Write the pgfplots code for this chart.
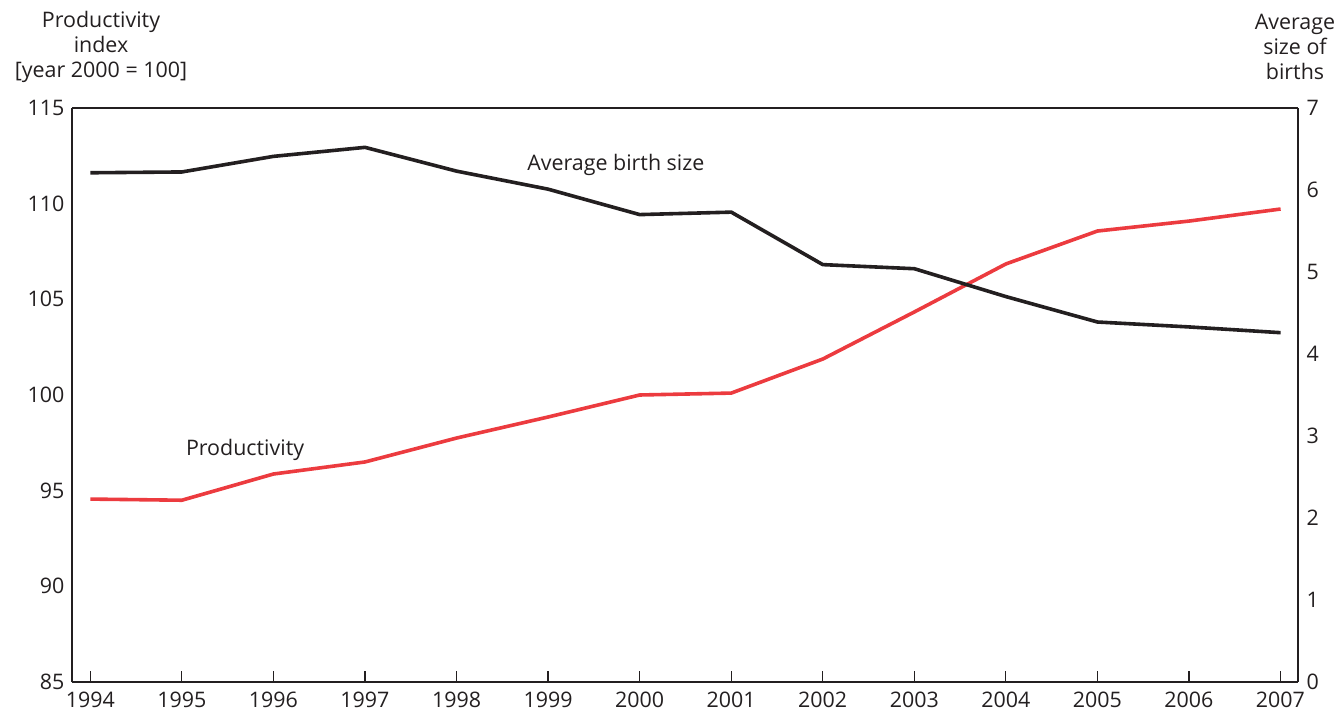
\documentclass[border=0pt]{standalone}
\usepackage{pgfplots}
\pgfplotsset{compat=1.18}
\usepackage{fontspec}
\setmainfont{Open Sans}
\definecolor{prodred}{HTML}{EC3B3F}
\definecolor{ink}{HTML}{231F20}
\pgfplotstableread{
year prod
1994 94.56
1995 94.50
1996 95.87
1997 96.50
1998 97.75
1999 98.85
2000 100.00
2001 100.10
2002 101.88
2003 104.34
2004 106.85
2005 108.57
2006 109.09
2007 109.72
}\prodtable
\pgfplotstableread{
year birth
1994 6.21
1995 6.22
1996 6.41
1997 6.52
1998 6.23
1999 6.01
2000 5.70
2001 5.73
2002 5.09
2003 5.04
2004 4.70
2005 4.39
2006 4.33
2007 4.26
}\birthtable
\newcommand\fs{\fontsize{21.5}{25}\selectfont}
\begin{document}
\begin{tikzpicture}
\path[use as bounding box] (0,0) rectangle (1336bp,711bp);
\pgfplotsset{
  common/.style={
    at={(72bp,29bp)}, anchor=south west,
    width=1226bp, height=574bp, scale only axis,
    xmin=1993.8, xmax=2007.19,
    axis line style={ink, line width=1.6bp},
    tick style={ink, line width=1.3bp},
    every tick label/.append style={font=\fs, text=ink},
    /pgf/number format/assume math mode=true,
    clip=false,
  }
}
\begin{axis}[common,
  ymin=85, ymax=115,
  ytick={85,90,...,115},
  xtick={1994,...,2007},
  xticklabel style={/pgf/number format/1000 sep={}},
  xtick align=inside, xtick pos=bottom,
  major tick length=11bp,
  ytick style={draw=none},
  yticklabel style={xshift=-4bp},
  xticklabel style={yshift=-6bp},
  axis y line*=left,
  axis x line*=bottom,
]
\addplot[prodred, line width=3.6bp] table[x=year,y=prod]{\prodtable};
\node[font=\fs, text=ink] at (axis cs:1995.69,97.12) {Productivity};
\node[font=\fs, text=ink] at (axis cs:1999.74,112.02) {Average birth size};
\end{axis}
\begin{axis}[common,
  ymin=0, ymax=7,
  ytick={0,...,7},
  axis y line*=right,
  axis x line=none,
  ytick style={draw=none},
  yticklabel style={xshift=5bp},
]
\addplot[ink, line width=3.6bp] table[x=year,y=birth]{\birthtable};
\end{axis}
\draw[ink, line width=1.6bp] (72bp,603bp) -- (1298bp,603bp);
\node[align=center, font=\fs, text=ink] at (101bp,664bp) {Productivity\\index\\{[year 2000 = 100]}};
\node[align=center, font=\fs, text=ink] at (1295bp,664bp) {Average\\size of\\births};
\end{tikzpicture}
\end{document}
